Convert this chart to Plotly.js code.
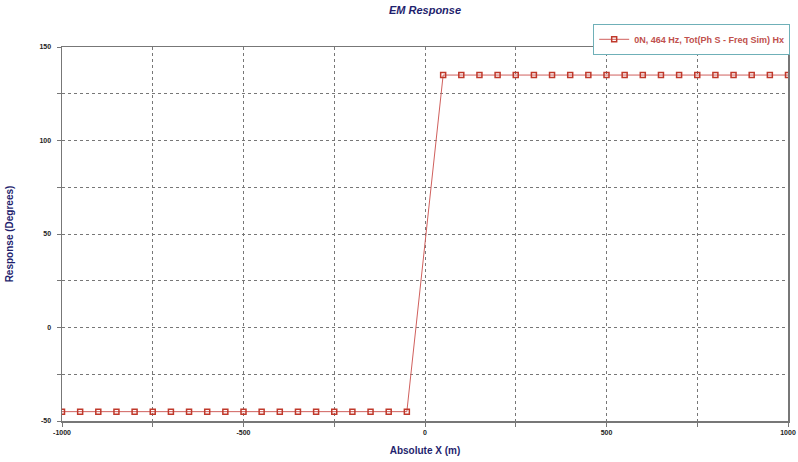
<!DOCTYPE html>
<html>
<head>
<meta charset="utf-8">
<script src="https://cdn.plot.ly/plotly-3.0.1.min.js"></script>
<style>html,body{margin:0;padding:0;background:#fff;}#chart{width:798px;height:462px;}</style>
</head>
<body>
<div id="chart"></div>
<script>
const xValues = [-1000,-950,-900,-850,-800,-750,-700,-650,-600,-550,-500,-450,-400,-350,-300,-250,-200,-150,-100,-50,
                 50,100,150,200,250,300,350,400,450,500,550,600,650,700,750,800,850,900,950,1000];
const yValues = [-45,-45,-45,-45,-45,-45,-45,-45,-45,-45,-45,-45,-45,-45,-45,-45,-45,-45,-45,-45,
                 135,135,135,135,135,135,135,135,135,135,135,135,135,135,135,135,135,135,135,135];
const seriesName = "0N, 464 Hz, Tot(Ph S - Freq Sim) Hx";
const xTickVals = [-1000,-750,-500,-250,0,250,500,750,1000];
const xTickText = ["-1000","","-500","","0","","500","","1000"];
const yTickVals = [-50,-25,0,25,50,75,100,125,150];
const yTickText = ["-50","","0","","50","","100","","150"];

const navy = "#1f1f6e";
const trace = {
  x: xValues, y: yValues, name: seriesName, type: "scatter", mode: "lines+markers",
  line: {color: "#d0605d", width: 1},
  marker: {symbol: "square-open", size: 5, color: "#c0392b", line: {width: 1.5}}
};
const axisCommon = {
  showline: true, linecolor: "#777", linewidth: 1.5, mirror: true,
  showgrid: true, gridcolor: "#777", griddash: "dot", gridwidth: 1,
  zeroline: false, ticks: "outside", ticklen: 4, tickcolor: "#777",
  tickmode: "array",
  tickfont: {family: "Liberation Sans, Arial", size: 7, color: "#222", weight: "bold"}
};
const layout = {
  width: 798, height: 462,
  margin: {l: 62, r: 8, t: 47, b: 41},
  paper_bgcolor: "#fff", plot_bgcolor: "#fff",
  showlegend: true,
  title: {text: "EM Response", x: 0.5, xref: "paper", y: 0.978, yanchor: "middle",
          font: {family: "Liberation Sans, Arial", size: 11, color: navy, weight: "bold", style: "italic"}},
  xaxis: Object.assign({}, axisCommon, {
    range: [-1000, 1000], tickvals: xTickVals, ticktext: xTickText,
    title: {text: "Absolute X (m)", standoff: 12,
            font: {family: "Liberation Sans, Arial", size: 10, color: navy, weight: "bold"}}
  }),
  yaxis: Object.assign({}, axisCommon, {
    range: [-50, 150], tickvals: yTickVals, ticktext: yTickText, ticklabelstandoff: 4,
    title: {text: "Response (Degrees)", standoff: 24,
            font: {family: "Liberation Sans, Arial", size: 10, color: navy, weight: "bold"}}
  }),
  legend: {x: 1.003, xanchor: "right", y: 1.062, yanchor: "top",
           bordercolor: "#6fb0b8", borderwidth: 1, bgcolor: "#fff",
           font: {family: "Liberation Sans, Arial", size: 9, color: "#c0504d", weight: "bold"},
           itemwidth: 30, tracegroupgap: 0}
};
Plotly.newPlot("chart", [trace], layout, {displayModeBar: false, staticPlot: true});
</script>
</body>
</html>
